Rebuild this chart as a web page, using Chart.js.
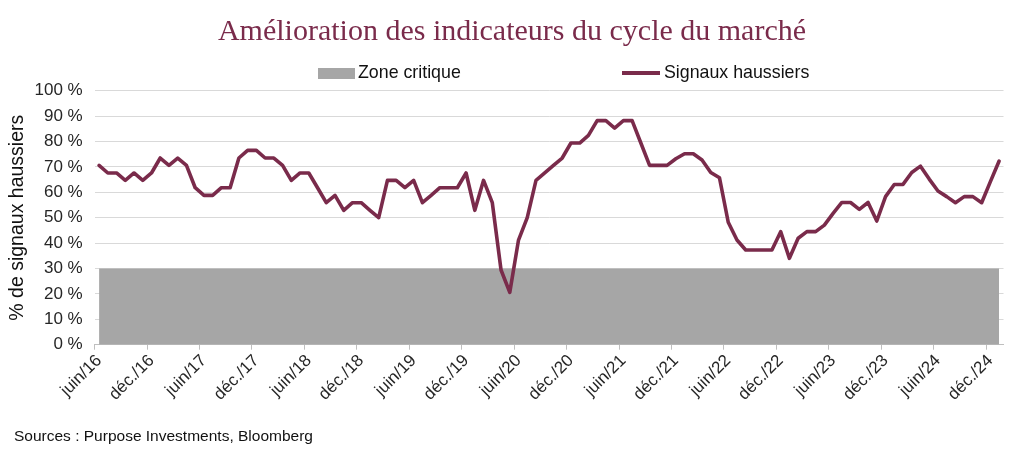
<!DOCTYPE html>
<html><head><meta charset="utf-8">
<script src="https://cdn.jsdelivr.net/npm/chart.js@4.4.1/dist/chart.umd.min.js"></script>
<style>
html,body{margin:0;padding:0;background:#fff;}
#wrap{position:relative;width:1024px;height:455px;overflow:hidden;}
#c{position:absolute;left:0;top:0;}
.txt{position:absolute;white-space:nowrap;}
#title{left:0;width:1024px;top:13px;text-align:center;font:30px "Liberation Serif","Times New Roman",serif;color:#7a2b4b;}
#src{left:14px;top:427px;font:15.5px "Liberation Sans",Arial,sans-serif;color:#111;}
.leg{top:62px;font:17.8px "Liberation Sans",Arial,sans-serif;color:#111;}
.box{position:absolute;}
</style></head><body>
<div id="wrap">
<canvas id="c" width="1024" height="455"></canvas>
<div id="title" class="txt">Amélioration des indicateurs du cycle du marché</div>
<div class="box" style="left:318px;top:68px;width:37px;height:11px;background:#a6a6a6;"></div>
<div class="txt leg" style="left:358px;">Zone critique</div>
<div class="box" style="left:622px;top:71px;width:38px;height:4px;background:#7a2b4b;"></div>
<div class="txt leg" style="left:664px;">Signaux haussiers</div>
<div id="src" class="txt">Sources : Purpose Investments, Bloomberg</div>
</div>
<script>
// Monthly series, juin 2016 -> janv. 2025
const monthNames = ['janv.','févr.','mars','avr.','mai','juin','juil.','août','sept.','oct.','nov.','déc.'];
const firstYear = 2016;
const firstMonthIndex = 5; // juin

const signals = [
  70.6, 67.6, 67.6, 64.7, 67.6, 64.7, 67.6, 73.5, 70.6, 73.5, 70.6, 61.8, 58.8, 58.8, 61.8, 61.8, 73.5, 76.5,
  76.5, 73.5, 73.5, 70.6, 64.7, 67.6, 67.6, 61.8, 55.9, 58.8, 52.9, 55.9, 55.9, 52.9, 50.0, 64.7, 64.7,
  61.8, 64.7, 55.9, 58.8, 61.8, 61.8, 61.8, 67.6, 52.9, 64.7, 55.9, 29.4, 20.6, 41.2, 50.0, 64.7, 67.6,
  70.6, 73.5, 79.4, 79.4, 82.4, 88.2, 88.2, 85.3, 88.2, 88.2, 79.4, 70.6, 70.6, 70.6, 73.2, 75.2, 75.2,
  72.7, 67.8, 65.7, 48.2, 41.2, 37.3, 37.3, 37.3, 37.3, 44.5, 34.0, 41.9, 44.5, 44.5, 47.1, 51.7, 56.0,
  56.0, 53.3, 56.0, 48.7, 58.3, 63.1, 63.1, 67.8, 70.3, 65.2, 60.5, 58.3, 55.9, 58.3, 58.3, 55.9, 64.2, 72.3
];
const criticalLevel = 30;
const yTicks = [0,10,20,30,40,50,60,70,80,90,100];

const categories = signals.map((_, i) => {
  const m = (firstMonthIndex + i) % 12;
  const y = firstYear + Math.floor((firstMonthIndex + i) / 12);
  return monthNames[m] + '/' + String(y).slice(2);
});
const labelEvery = 6;

const FONT = '"Liberation Sans", Arial, sans-serif';
const MAROON = '#7a2b4b';

new Chart(document.getElementById('c'), {
  type: 'line',
  data: {
    labels: categories,
    datasets: [
      {
        label: 'Signaux haussiers',
        data: signals,
        borderColor: MAROON,
        backgroundColor: MAROON,
        borderWidth: 3.6,
        pointRadius: 0,
        fill: false,
        tension: 0,
        borderJoinStyle: 'round',
        borderCapStyle: 'round',
        order: 1
      },
      {
        label: 'Zone critique',
        data: categories.map(() => criticalLevel),
        borderWidth: 0,
        borderColor: 'rgba(0,0,0,0)',
        backgroundColor: '#a6a6a6',
        fill: 'origin',
        pointRadius: 0,
        order: 2
      }
    ]
  },
  options: {
    responsive: false,
    animation: false,
    events: [],
    layout: { padding: { top: 90.7, right: 20.5, bottom: 0, left: 0 } },
    plugins: { legend: { display: false }, title: { display: false }, tooltip: { enabled: false } },
    scales: {
      x: {
        type: 'category',
        offset: true,
        afterFit: s => { s.height = 455 - 344.7; },
        border: { display: true, color: '#bfbfbf', width: 1 },
        grid: {
          display: true,
          drawOnChartArea: false,
          drawTicks: true,
          tickLength: 5,
          offset: true,
          color: c => (c.index % labelEvery === 0 && c.index < categories.length) ? '#bfbfbf' : 'rgba(0,0,0,0)'
        },
        ticks: {
          autoSkip: false,
          minRotation: 45,
          maxRotation: 45,
          padding: 1,
          color: '#262626',
          font: { family: FONT, size: 17 },
          callback: (v, i) => (i % labelEvery === 0 ? categories[i] : '')
        }
      },
      y: {
        min: 0,
        max: 100,
        afterFit: s => { s.width = 94.7; },
        afterBuildTicks: s => { s.ticks = yTicks.map(v => ({ value: v })); },
        border: { display: false },
        grid: {
          drawTicks: false,
          color: c => (c.tick && c.tick.value === 0) ? 'rgba(0,0,0,0)' : '#d9d9d9',
          lineWidth: 1
        },
        ticks: {
          padding: 12,
          color: '#262626',
          font: { family: FONT, size: 17 },
          callback: v => v + '\u00a0%'
        },
        title: {
          display: true,
          text: '% de signaux haussiers',
          color: '#111',
          font: { family: FONT, size: 19.5 },
          padding: { top: 6, bottom: 0 }
        }
      }
    }
  }
});
</script>
</body></html>
